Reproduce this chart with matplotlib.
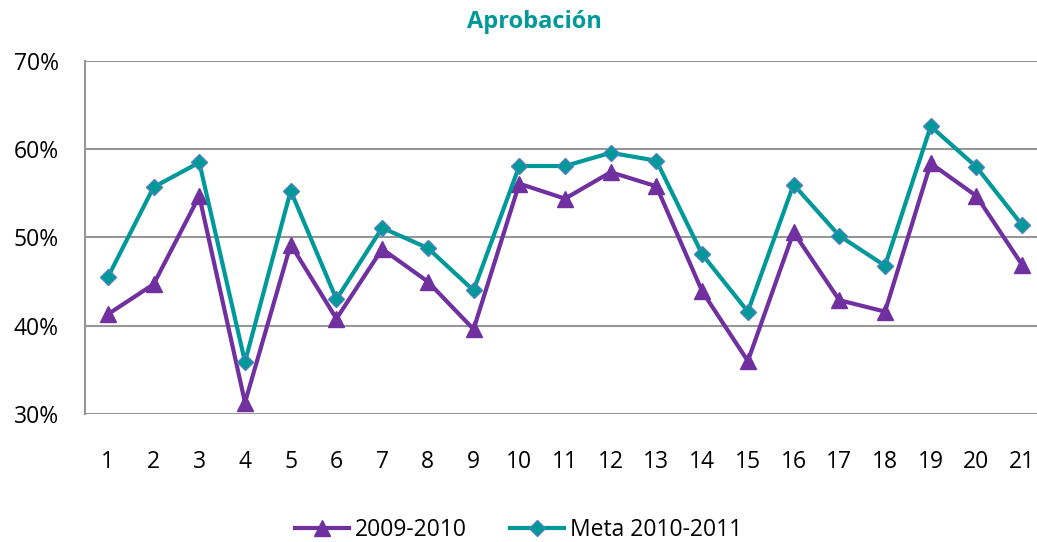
import matplotlib

matplotlib.use("Agg")

import matplotlib.pyplot as plt
from matplotlib.ticker import PercentFormatter

# Values (percent)
grades = list(range(1, 22))
aprob_2009_2010 = [41.3, 44.7, 54.7, 31.3, 49.2, 40.8, 48.7, 45.0, 39.6, 56.1, 54.4,
                   57.4, 55.8, 43.9, 36.0, 50.6, 42.9, 41.6, 58.4, 54.7, 46.9]
meta_2010_2011 = [45.5, 55.7, 58.5, 35.9, 55.3, 43.0, 51.1, 48.8, 44.0, 58.1, 58.1,
                  59.6, 58.7, 48.1, 41.6, 56.0, 50.2, 46.8, 62.6, 58.0, 51.4]
series_labels = ["2009-2010", "Meta 2010-2011"]
y_ticks = [30, 40, 50, 60, 70]

PURPLE = "#7030A0"
TEAL = "#009999"
GRID = "#969696"
FS = 16.5

plt.rcParams["font.family"] = ["Open Sans", "DejaVu Sans"]

fig = plt.figure(figsize=(10.37, 5.42), dpi=100)
ax = fig.add_axes([85 / 1037, 128 / 542, 960 / 1037, 353 / 542])

ax.plot(grades, aprob_2009_2010, color=PURPLE, linewidth=3, marker="^",
        markersize=12, markerfacecolor=PURPLE, markeredgecolor=PURPLE,
        label=series_labels[0], zorder=3)
ax.plot(grades, meta_2010_2011, color=TEAL, linewidth=3, marker="D",
        markersize=8, markerfacecolor=TEAL, markeredgecolor="#4F81BD",
        markeredgewidth=1.0, label=series_labels[1], zorder=4)

ax.set_xlim(0.5, 21.5)
ax.set_ylim(30, 70)
ax.set_xticks(grades)
ax.set_yticks(y_ticks)
ax.yaxis.set_major_formatter(PercentFormatter(decimals=0))
ax.tick_params(axis="both", length=0, labelsize=FS)
ax.tick_params(axis="x", pad=26)
ax.tick_params(axis="y", pad=19)

ax.grid(axis="y", color=GRID, linewidth=1.5)
ax.set_axisbelow(True)
for side in ["top", "right", "bottom"]:
    ax.spines[side].set_visible(False)
ax.spines["left"].set_color(GRID)
ax.spines["left"].set_linewidth(1.5)

fig.text(0.515, 0.959, "Aprobación", ha="center", va="center", fontsize=17,
         fontweight="bold", color=TEAL)

fig.legend(loc="center", bbox_to_anchor=(0.5, 0.022), ncol=2, frameon=False,
           fontsize=FS, handlelength=2.36, columnspacing=1.9, handletextpad=0.25)

fig.savefig("out.png", dpi=100)
plt.close(fig)
